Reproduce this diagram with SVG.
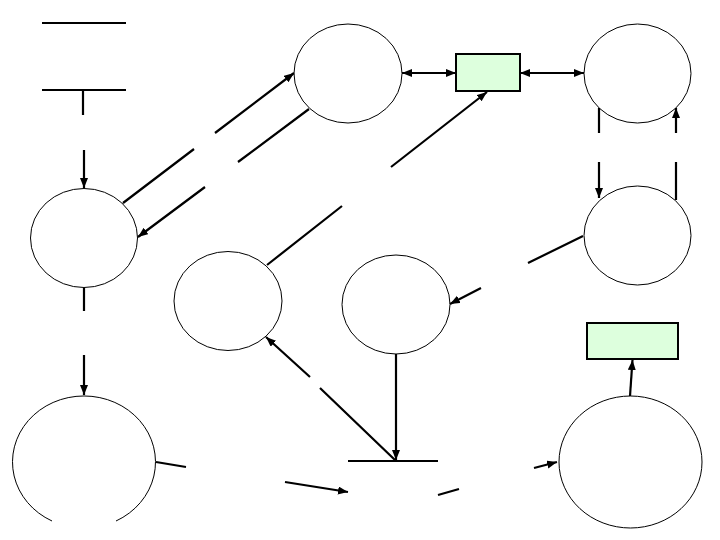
<svg xmlns="http://www.w3.org/2000/svg" width="720" height="540" viewBox="0 0 720 540">
<style>
.n{fill:#fff;stroke:#000;stroke-width:1}
.b{fill:#DDFFDD;stroke:#000;stroke-width:2}
.c{fill:none;stroke:#000;stroke-width:2.2}
</style>
<defs>
<marker id="ah" markerUnits="userSpaceOnUse" markerWidth="12" markerHeight="10" refX="10" refY="4" orient="auto">
<path d="M0,0 L10,4 L0,8 z" fill="#000"/>
</marker>
<marker id="as" markerUnits="userSpaceOnUse" markerWidth="12" markerHeight="10" refX="0" refY="4" orient="auto">
<path d="M10,0 L0,4 L10,8 z" fill="#000"/>
</marker>
</defs>
<rect width="720" height="540" fill="#fff"/>
<g id="bar-top"><line class="c" x1="42" y1="23" x2="126" y2="23"/></g>
<g id="bar-start"><line class="c" x1="42" y1="90" x2="126" y2="90"/></g>
<g id="bar-join"><line class="c" x1="348" y1="461" x2="438" y2="461"/></g>
<g id="nodeA"><ellipse class="n" cx="84" cy="238" rx="53.5" ry="49.5"/></g>
<g id="nodeB"><path class="n" d="M116,521 A71.5,66 0 1 0 52,521"/></g>
<g id="nodeC"><ellipse class="n" cx="348" cy="73.5" rx="54" ry="49.5"/></g>
<g id="nodeD"><ellipse class="n" cx="637.5" cy="73.5" rx="53.5" ry="49.5"/></g>
<g id="nodeE"><ellipse class="n" cx="637.5" cy="235.5" rx="53.5" ry="49.5"/></g>
<g id="nodeF"><ellipse class="n" cx="228" cy="301" rx="54" ry="49.5"/></g>
<g id="nodeG"><ellipse class="n" cx="396" cy="304.5" rx="54" ry="49.5"/></g>
<g id="nodeH"><ellipse class="n" cx="630.5" cy="462" rx="71.5" ry="66"/></g>
<g id="box1"><rect class="b" x="456" y="54" width="64" height="37"/></g>
<g id="box2"><rect class="b" x="587" y="323" width="91" height="36"/></g>
<g id="connectors">
<path class="c" d="M83,90 L83,115 M84,150 L84,188" marker-end="url(#ah)"/>
<path class="c" d="M84,288 L84,311 M84,355 L84,395" marker-end="url(#ah)"/>
<path class="c" d="M123,203 L194,149 M215,133 L294,73" marker-end="url(#ah)"/>
<path class="c" d="M309,109 L238,162 M205,187 L138,237" marker-end="url(#ah)"/>
<path class="c" d="M267,265 L342,206 M391,167 L487,92" marker-end="url(#ah)"/>
<line class="c" x1="402" y1="73" x2="456" y2="73" marker-start="url(#as)" marker-end="url(#ah)"/>
<line class="c" x1="520" y1="73" x2="584" y2="73" marker-start="url(#as)" marker-end="url(#ah)"/>
<path class="c" d="M599,108 L599,133 M599,162 L599,198" marker-end="url(#ah)"/>
<path class="c" d="M676,200 L676,162 M676,133 L676,108" marker-end="url(#ah)"/>
<path class="c" d="M583,236 L528,263 M481,288 L450,304" marker-end="url(#ah)"/>
<line class="c" x1="396" y1="354" x2="396" y2="460" marker-end="url(#ah)"/>
<path class="c" d="M395,460 L320,388 M310,377 L266,337" marker-end="url(#ah)"/>
<path class="c" d="M156,462 L186,467 M285,482 L348,492" marker-end="url(#ah)"/>
<path class="c" d="M438,495 L459,489 M534,468 L557,462" marker-end="url(#ah)"/>
<line class="c" x1="630" y1="396" x2="632.5" y2="360" marker-end="url(#ah)"/>
</g>
</svg>
